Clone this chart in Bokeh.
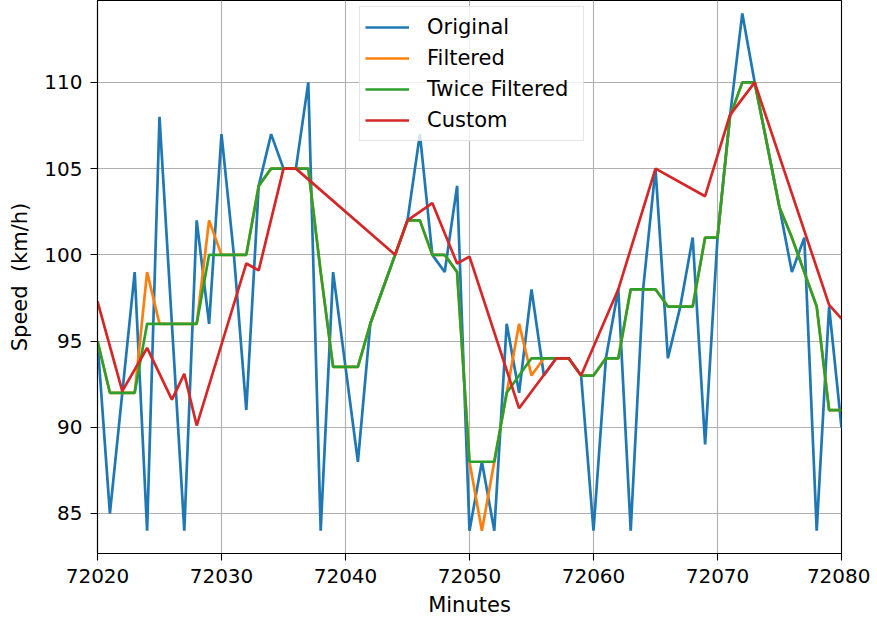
from bokeh.plotting import figure
from bokeh.models import FixedTicker, Legend, LegendItem, Range1d
from bokeh.embed import file_html
from bokeh.resources import INLINE

minutes = list(range(72020, 72081))

original = [95, 85, 92, 99, 84, 108, 96, 84, 102, 96,
            107, 100, 91, 104, 107, 105, 105, 110, 84, 99,
            93.5, 88, 96, 98, 100, 102, 107, 100, 99, 104,
            84, 88, 84, 96, 92, 98, 93, 94, 94, 93,
            84, 94, 98, 84, 98, 105, 94, 97, 101, 89,
            101, 108, 114, 110, 106.4, 102.75, 99, 101, 84, 97,
            90]

filtered = [95, 92, 92, 92, 99, 96, 96, 96, 96, 102,
            100, 100, 100, 104, 105, 105, 105, 105, 99, 93.5,
            93.5, 93.5, 96, 98, 100, 102, 102, 100, 100, 99,
            88, 84, 88, 92, 96, 93, 94, 94, 94, 93,
            93, 94, 94, 98, 98, 98, 97, 97, 97, 101,
            101, 108, 110, 110, 106.4, 102.75, 101, 99, 97, 91,
            91]

twice_filtered = [95, 92, 92, 92, 96, 96, 96, 96, 96, 100,
                  100, 100, 100, 104, 105, 105, 105, 105, 99, 93.5,
                  93.5, 93.5, 96, 98, 100, 102, 102, 100, 100, 99,
                  88, 88, 88, 92, 93, 94, 94, 94, 94, 93,
                  93, 94, 94, 98, 98, 98, 97, 97, 97, 101,
                  101, 108, 110, 110, 106.4, 102.75, 101, 99, 97, 91,
                  91]

custom_x = [72020, 72022, 72024, 72026, 72027, 72028, 72032, 72033, 72035, 72036,
            72044, 72045, 72047, 72049, 72050, 72054, 72057, 72058, 72059, 72062,
            72065, 72069, 72071, 72073, 72079, 72080]
custom_y = [97.3, 92.1, 94.6, 91.6, 93.1, 90.1, 99.5, 99.1, 105, 105,
            100, 102, 103, 99.5, 99.9, 91.1, 94, 94, 93, 98,
            105, 103.4, 108.1, 110, 97.1, 96.3]

x_ticks = [72020, 72030, 72040, 72050, 72060, 72070, 72080]
y_ticks = [85, 90, 95, 100, 105, 110]

FONT = "DejaVu Sans"
FS_TICK = "20px"
FS = "21px"

p = figure(width=870, height=620, output_backend="svg", toolbar_location=None,
           x_range=Range1d(72020, 72080), y_range=Range1d(82.68, 114.75),
           min_border_left=97, min_border_right=29, min_border_top=0,
           min_border_bottom=67)

p.background_fill_color = "white"
p.border_fill_color = "white"
p.outline_line_color = "black"
p.outline_line_width = 1.1

lw = 2.7
r1 = p.line(minutes, original, line_color="#1f77b4", line_width=lw)
r2 = p.line(minutes, filtered, line_color="#ff7f0e", line_width=lw)
r3 = p.line(minutes, twice_filtered, line_color="#2ca02c", line_width=lw)
r4 = p.line(custom_x, custom_y, line_color="#d62728", line_width=lw)

p.xaxis.ticker = FixedTicker(ticks=x_ticks)
p.yaxis.ticker = FixedTicker(ticks=y_ticks)
p.xgrid.ticker = FixedTicker(ticks=x_ticks)
p.ygrid.ticker = FixedTicker(ticks=y_ticks)
for g in (p.xgrid, p.ygrid):
    g.grid_line_color = "#b0b0b0"
    g.grid_line_width = 1.1

for ax in (p.xaxis, p.yaxis):
    ax.axis_line_color = "black"
    ax.axis_line_width = 1.1
    ax.major_tick_line_color = "black"
    ax.major_tick_line_width = 1.1
    ax.major_tick_out = 7
    ax.major_tick_in = 0
    ax.minor_tick_line_color = None
    ax.major_label_text_font = FONT
    ax.major_label_text_font_size = FS_TICK
    ax.major_label_text_color = "black"
    ax.axis_label_text_font = FONT
    ax.axis_label_text_font_size = FS
    ax.axis_label_text_font_style = "normal"
    ax.axis_label_text_color = "black"

p.xaxis.axis_label = "Minutes"
p.yaxis.axis_label = "Speed\u00a0\u00a0(km/h)"
p.xaxis.major_label_standoff = 8
p.xaxis.axis_label_standoff = 7
p.yaxis.major_label_standoff = 8
p.yaxis.axis_label_standoff = 9

legend = Legend(items=[
    LegendItem(label="Original", renderers=[r1]),
    LegendItem(label="Filtered", renderers=[r2]),
    LegendItem(label="Twice Filtered", renderers=[r3]),
    LegendItem(label="Custom", renderers=[r4]),
], location=(262, 412))
legend.label_text_font = FONT
legend.label_text_font_size = FS
legend.label_text_color = "black"
legend.glyph_width = 44
legend.glyph_height = 30
legend.label_height = 30
legend.label_width = 151
legend.label_standoff = 18
legend.spacing = 1
legend.padding = 5
legend.margin = 0
legend.border_line_color = "#cccccc"
legend.border_line_width = 1
legend.background_fill_color = "white"
legend.background_fill_alpha = 0.8
p.add_layout(legend, "center")

open("out.html", "w").write(file_html(p, INLINE))
